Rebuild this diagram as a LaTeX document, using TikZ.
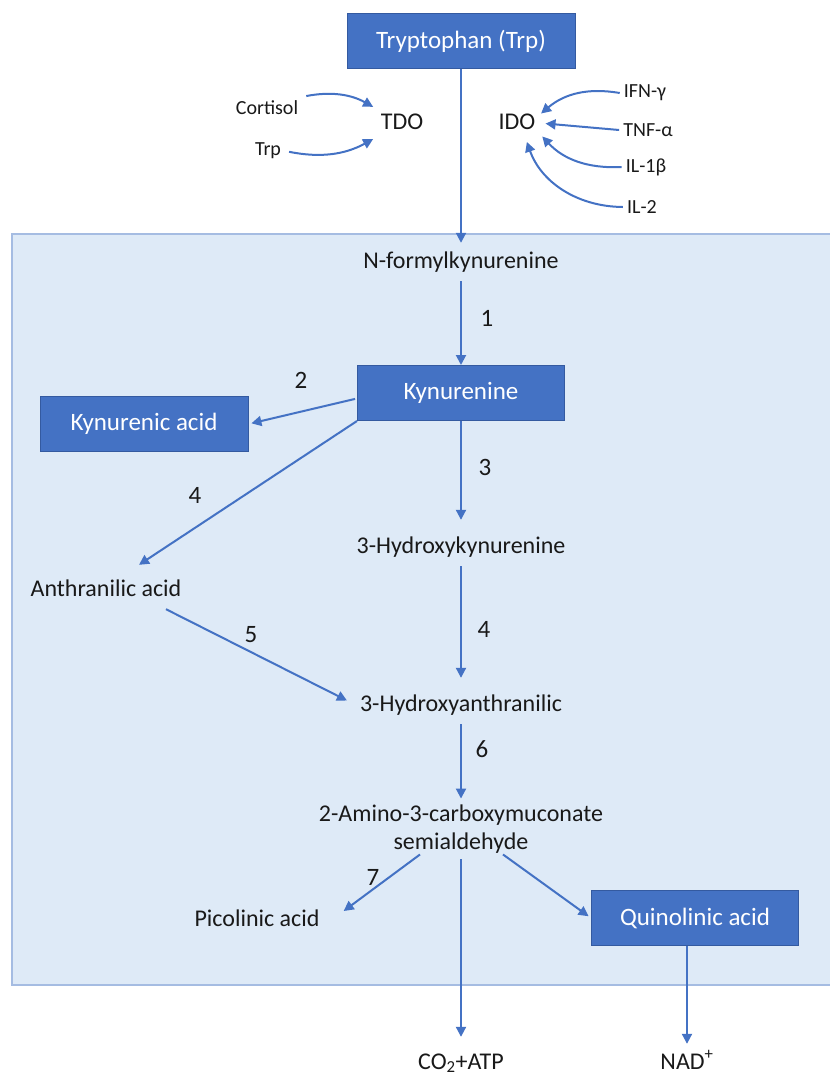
\documentclass[tikz,border=0pt]{standalone}
\usepackage{fontspec}
\setmainfont{Carlito}
\usepackage{tikz}
\usetikzlibrary{arrows.meta, positioning}
\definecolor{boxblue}{RGB}{68,114,196}
\definecolor{boxline}{RGB}{52,90,160}
\definecolor{arrowblue}{RGB}{68,114,196}
\definecolor{panelfill}{RGB}{222,234,247}
\definecolor{panelline}{RGB}{165,188,226}
\definecolor{ink}{RGB}{25,25,25}
\newcommand{\fsBox}{\fontsize{25}{30}\selectfont}
\newcommand{\fsCompound}{\fontsize{24}{28}\selectfont}
\newcommand{\fsFactor}{\fontsize{20}{24}\selectfont}
\newcommand{\fsStep}{\fontsize{25}{30}\selectfont}
\tikzset{
  box/.style={
    rectangle, draw=boxline, line width=1pt, fill=boxblue, text=white,
    minimum width=207pt, minimum height=55pt, font=\fsBox
  },
  compound/.style={
    font=\fsCompound, text=ink, inner xsep=4pt, inner ysep=8pt,
    text height=17pt, text depth=5pt
  },
  twoline/.style={font=\fsCompound, text=ink, align=center, inner sep=6pt},
  enzyme/.style={font=\fsCompound, text=ink, inner sep=4pt, text height=16pt, text depth=4pt},
  factor/.style={font=\fsFactor, text=ink, inner sep=4pt},
  stepno/.style={font=\fsStep, text=ink, inner sep=2pt},
  arr/.style={draw=arrowblue, line width=2pt, -{Triangle[length=10pt,width=10pt]}},
  panel/.style={fill=panelfill, draw=none},
}
\begin{document}
\begin{tikzpicture}[x=1pt, y=-1pt]
  \useasboundingbox (0,0) rectangle (830,1080);
  \fill[panel] (12,234) rectangle (830,985);
  \draw[panelline, line width=2pt] (830,234) -| (12,985) -- (830,985);

  \node[box, minimum width=228pt] (trp) at (461,41) {Tryptophan (Trp)};
  \node[enzyme] (tdo) at (402,123) {TDO};
  \node[enzyme] (ido) at (517,123) {IDO};
  \node[factor] (cort) at (267,108) {Cortisol};
  \node[factor] (trpin) at (268,151) {Trp};
  \node[factor] (ifn) at (645,93) {IFN-γ};
  \node[factor] (tnf) at (648,130) {TNF-α};
  \node[factor] (ilb) at (646,167) {IL-1β};
  \node[factor] (iltwo) at (642,207) {IL-2};

  \node[compound] (nfk) at (461,262) {N-formylkynurenine};
  \node[box] (kyn) at (461,393) {Kynurenine};
  \node[box, minimum width=208pt] (kacid) at (144,424) {Kynurenic acid};
  \node[compound] (anth) at (106,590) {Anthranilic acid};
  \node[compound] (hky) at (461,547) {3-Hydroxykynurenine};
  \node[compound] (hxa) at (461,705) {3-Hydroxyanthranilic};
  \node[twoline] (acms) at (461,829) {2-Amino-3-carboxymuconate\\semialdehyde};
  \node[compound] (pic) at (257,920) {Picolinic acid};
  \node[box] (quin) at (695,918) {Quinolinic acid};
  \node[compound] (co2) at (461,1063) {CO\textsubscript{2}+ATP};
  \node[compound] (nad) at (687,1063) {NAD\textsuperscript{+}};

  \node[stepno] (s1) at (487,318) {1};
  \node[stepno] (s2) at (301,380) {2};
  \node[stepno] (s3) at (485,467) {3};
  \node[stepno] (s4a) at (195,495) {4};
  \node[stepno] (s4b) at (484,629) {4};
  \node[stepno] (s5) at (251,635) {5};
  \node[stepno] (s6) at (482,749) {6};
  \node[stepno] (s7) at (373,877) {7};

  \draw[arr, shorten <=4pt, shorten >=4pt] (cort.north east) to[bend left=20] (tdo.north west);
  \draw[arr, shorten <=4pt, shorten >=4pt] (trpin.east) to[bend right=20] (tdo.south west);
  \draw[arr, shorten >=2pt] (ifn.west) to[bend right=25] (ido.20);
  \draw[arr, shorten >=6pt] (tnf.west) -- (ido.east);
  \draw[arr, shorten >=4pt] (ilb.west) to[bend left=25] (ido.-25);
  \draw[arr, shorten >=5pt] (iltwo.west) to[bend left=35] (ido.-60);

  \draw[arr] (trp) -- (nfk);
  \draw[arr] (nfk) -- (kyn);
  \draw[arr, shorten <=2pt, shorten >=3pt] (kyn.183) -- (kacid.east);
  \draw[arr] (kyn.south west) -- ([xshift=33pt,yshift=6pt]anth.north);
  \draw[arr, shorten >=8pt] (kyn) -- (hky);
  \draw[arr, shorten >=8pt] (hky) -- (hxa);
  \draw[arr, shorten >=10pt] ([xshift=60pt]anth.south) -- (hxa.west);
  \draw[arr] (hxa) -- (acms);
  \draw[arr] ([xshift=-41pt,yshift=5pt]acms.south) -- ([xshift=20pt,yshift=9pt]pic.east);
  \draw[arr, shorten >=7pt] (acms) -- (co2);
  \draw[arr, shorten >=3pt] ([xshift=42pt,yshift=5pt]acms.south) -- (quin.west);
  \draw[arr] (quin.south -| nad) -- (nad);
\end{tikzpicture}
\end{document}
